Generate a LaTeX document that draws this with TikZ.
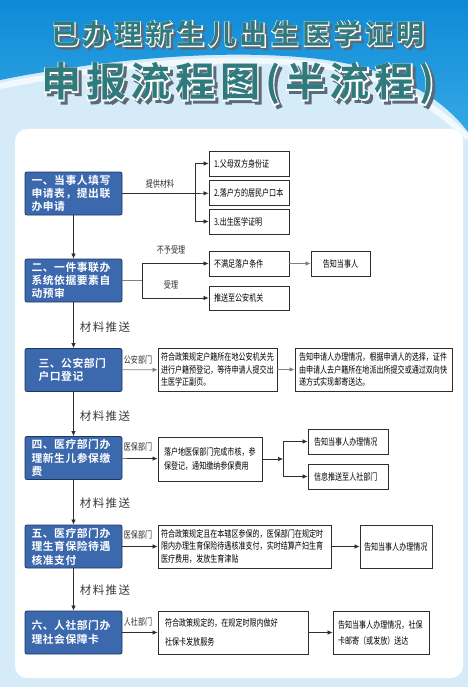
\documentclass[tikz,border=0pt]{standalone}
\usepackage{fontspec}
\usetikzlibrary{arrows.meta}
\newfontfamily\cjkhead{Noto Sans CJK SC Bold}[LetterSpace=12]
\newfontfamily\cjkheadfat{Noto Sans CJK SC Bold}[LetterSpace=12,FakeBold=5]
\newfontfamily\cjkbox{Noto Sans CJK SC Bold}[LetterSpace=5]
\newfontfamily\cjknarrow{Noto Sans CJK SC}[FakeStretch=0.75]
\newfontfamily\cjklabel{Noto Sans CJK SC}[LetterSpace=12]
\definecolor{paleblue}{HTML}{D5EBF8}
\definecolor{skyblue}{HTML}{35A8E6}
\definecolor{skydark}{HTML}{0E8AD6}
\definecolor{boxblue}{HTML}{3C68AE}
\definecolor{boxedge}{HTML}{1E3560}
\definecolor{lineclr}{HTML}{2E2E2E}
\definecolor{graylink}{HTML}{808080}
\definecolor{labelgray}{HTML}{3A3A3A}
\definecolor{titlegreen}{HTML}{2F7A7C}
\definecolor{shadegray}{HTML}{5A6A78}
\newcommand\headone{已办理新生儿出生医学证明}
\newcommand\headtwo{申报流程图(半流程)}
\begin{document}
\begin{tikzpicture}[x=1pt,y=-1pt,
  mainbox/.style={draw=boxedge,fill=boxblue,rounded corners=2pt,line width=0.8pt,
    minimum width=97pt,minimum height=43pt,text width=84pt,align=left,inner sep=0pt,
    text=white,font=\cjkbox\fontsize{10.8}{13.4}\selectfont},
  infobox/.style={draw=lineclr,fill=white,line width=0.9pt,inner sep=0pt,align=left,
    font=\cjknarrow\fontsize{9.4}{12.5}\selectfont},
  sidelabel/.style={inner sep=0pt,font=\cjknarrow\fontsize{9.4}{11}\selectfont,text=lineclr},
  steplabel/.style={inner sep=0pt,font=\cjklabel\fontsize{11.5}{13}\selectfont,text=labelgray},
  titleone/.style={inner sep=0pt,font=\cjkhead\fontsize{28}{30}\selectfont},
  titletwo/.style={inner sep=0pt,font=\cjkhead\fontsize{40}{42}\selectfont},
  haloone/.style={inner sep=0pt,font=\cjkheadfat\fontsize{28}{30}\selectfont},
  halotwo/.style={inner sep=0pt,font=\cjkheadfat\fontsize{40}{42}\selectfont},
  arr/.style={draw=lineclr,line width=0.7pt,-{Latex[length=5pt,width=4.5pt]}},
  link/.style={draw=lineclr,line width=0.7pt},
  grayarr/.style={arr,draw=graylink},
  graylink/.style={link,draw=graylink}]
\useasboundingbox (0,0) rectangle (468,687);

% background and header
\fill[paleblue] (0,0) rectangle (468,687);
\shade[top color=skydark,bottom color=skyblue] (0,0) -- (468,0) -- (468,132)
  .. controls (440,95) and (390,66) .. (310,58) .. controls (210,48) and (90,62) .. (0,80) -- cycle;
\draw[white,line width=6pt,opacity=0.7] (0,86) .. controls (90,68) and (210,54) .. (310,64)
  .. controls (380,72) and (430,100) .. (468,138);
\fill[white,rounded corners=12pt] (15,129) rectangle (463,678);

% title
\node[haloone,text=shadegray] (shadea) at (240.5,36.5) {\headone};
\node[haloone,text=white] (haloa) at (238,34) {\headone};
\node[titleone,text=titlegreen] (title1) at (238,34) {\headone};
\node[halotwo,text=shadegray] (shadeb) at (241,87) {\headtwo};
\node[halotwo,text=white] (halob) at (238,84) {\headtwo};
\node[titletwo,text=titlegreen] (title2) at (238,84) {\headtwo};

% main steps
\node[mainbox] (apply) at (73.5,193.5) {一、当事人填写\\申请表，提出联\\办申请};
\node[mainbox] (system) at (73.5,280.5) {二、一件事联办\\系统依据要素自\\动预审};
\node[mainbox,text width=70pt] (police) at (73.5,370) {三、公安部门\\户口登记};
\node[mainbox] (medins) at (73.5,458) {四、医疗部门办\\理新生儿参保缴\\费};
\node[mainbox] (birthpay) at (73.5,546.5) {五、医疗部门办\\理生育保险待遇\\核准支付};
\node[mainbox] (hrcard) at (73.5,632.5) {六、人社部门办\\理社会保障卡};

\draw[arr] (apply) -- (system);
\draw[arr] (system) -- (police);
\draw[arr] (police) -- (medins);
\draw[arr] (medins) -- (birthpay);
\draw[arr] (birthpay) -- (hrcard);
\node[steplabel] (push1) at (105,327) {材料推送};
\node[steplabel] (push2) at (105,416) {材料推送};
\node[steplabel] (push3) at (105,503) {材料推送};
\node[steplabel] (push4) at (105,590) {材料推送};

% step one: documents
\node[infobox,minimum width=80pt,minimum height=25pt,text width=70pt] (doc1) at (249,163.5) {1.父母双方身份证};
\node[infobox,minimum width=80pt,minimum height=25pt,text width=70pt] (doc2) at (249,192.5) {2.落户方的居民户口本};
\node[infobox,minimum width=80pt,minimum height=25pt,text width=70pt] (doc3) at (249,221.5) {3.出生医学证明};
\coordinate (fork1) at (195,193.5);
\draw[link] (apply) -- (fork1);
\draw[arr] (fork1) |- (doc1);
\draw[arr] (fork1) -- (doc2);
\draw[arr] (fork1) |- (doc3);
\node[sidelabel] (material) at (160,184) {提供材料};

% step two: check
\node[infobox,minimum width=80pt,minimum height=25pt,text width=70pt] (reject) at (249,263.5) {不满足落户条件};
\node[infobox,minimum width=59pt,minimum height=25pt,text width=40pt,align=center] (notify) at (340.5,263.5) {告知当事人};
\node[infobox,minimum width=80pt,minimum height=24pt,text width=70pt] (forward) at (249,298) {推送至公安机关};
\coordinate (fork2) at (142,280.5);
\draw[graylink] (system) -- (fork2);
\draw[arr] (fork2) |- (reject);
\draw[arr] (fork2) |- (forward);
\draw[grayarr] (reject) -- (notify);
\node[sidelabel] (refuse) at (171,250) {不予受理};
\node[sidelabel] (accept) at (171,285) {受理};

% step three
\node[infobox,minimum width=119pt,minimum height=43pt,text width=113pt] (prereg) at (217.5,369.5)
  {符合政策规定户籍所在地公安机关先\\进行户籍预登记，等待申请人提交出\\生医学正副页。};
\node[infobox,minimum width=157pt,minimum height=43pt,text width=149pt] (mail) at (373.5,369.5)
  {告知申请人办理情况，根据申请人的选择，证件\\由申请人去户籍所在地派出所提交或通过双向快\\递方式实现邮寄送达。};
\draw[graylink,-{Latex[length=5pt,width=4.5pt]}] (police) -- (prereg);
\draw[grayarr] (prereg) -- (mail);
\node[sidelabel] (dept3) at (138,360) {公安部门};

% step four
\node[infobox,minimum width=104pt,minimum height=44pt,text width=92pt,font=\cjknarrow\fontsize{9.4}{14}\selectfont] (enrol) at (210,459)
  {落户地医保部门完成市核，参\\保登记，通知缴纳参保费用};
\node[infobox,minimum width=80pt,minimum height=25pt,text width=68pt] (tellins) at (348,441.5) {告知当事人办理情况};
\node[infobox,minimum width=80pt,minimum height=25pt,text width=68pt] (pushhr) at (348,476.5) {信息推送至人社部门};
\coordinate (fork4) at (283,459);
\draw[arr] (medins) -- (enrol);
\draw[arr] (enrol) -- (fork4);
\draw[arr] (fork4) |- (tellins);
\draw[arr] (fork4) |- (pushhr);
\node[sidelabel] (dept4) at (138,447) {医保部门};

% step five
\node[infobox,minimum width=173pt,minimum height=43pt,text width=167pt] (settle) at (244.5,546.5)
  {符合政策规定且在本辖区参保的，医保部门在规定时\\限内办理生育保险待遇核准支付，实时结算产妇生育\\医疗费用，发放生育津贴};
\node[infobox,minimum width=72pt,minimum height=43pt,text width=64pt] (tellbirth) at (396,546.5) {告知当事人办理情况};
\draw[arr] (birthpay) -- (settle);
\draw[arr] (settle) -- (tellbirth);
\node[sidelabel] (dept5) at (138,535) {医保部门};

% step six
\node[infobox,minimum width=150pt,minimum height=43pt,text width=136pt,font=\cjknarrow\fontsize{9.4}{19}\selectfont] (issue) at (233,632.5)
  {符合政策规定的，在规定时限内做好\\社保卡发放服务};
\node[infobox,minimum width=96pt,minimum height=43pt,text width=86pt,font=\cjknarrow\fontsize{9.4}{16}\selectfont] (sendcard) at (381,632.5)
  {告知当事人办理情况，社保\\卡邮寄（或发放）送达};
\draw[arr] (hrcard) -- (issue);
\draw[arr] (issue) -- (sendcard);
\node[sidelabel] (dept6) at (138,622) {人社部门};
\end{tikzpicture}
\end{document}
